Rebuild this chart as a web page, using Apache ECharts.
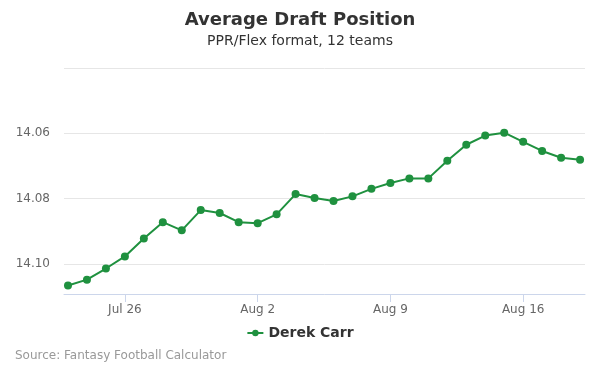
<!DOCTYPE html>
<html>
<head>
<meta charset="utf-8">
<script src="https://cdn.jsdelivr.net/npm/echarts@6/dist/echarts.min.js"></script>
<style>html,body{margin:0;padding:0;background:#fff}#c{width:600px;height:375px}</style>
</head>
<body>
<div id="c"></div>
<script>
var dates = ['Jul 23','Jul 24','Jul 25','Jul 26','Jul 27','Jul 28','Jul 29','Jul 30','Jul 31','Aug 1','Aug 2','Aug 3','Aug 4','Aug 5','Aug 6','Aug 7','Aug 8','Aug 9','Aug 10','Aug 11','Aug 12','Aug 13','Aug 14','Aug 15','Aug 16','Aug 17','Aug 18','Aug 19'];
var adp = [14.1066,14.1048,14.1014,14.0977,14.0922,14.0872,14.0897,14.0835,14.0844,14.0872,14.0875,14.0848,14.0786,14.0798,14.0807,14.0793,14.0770,14.0752,14.0738,14.0738,14.0684,14.0635,14.0607,14.0598,14.0626,14.0654,14.0675,14.0681];
var xTickIdx = [3,10,17,24];
var yTickLabels = [14.06,14.08,14.10];

var chart = echarts.init(document.getElementById('c'));
var fontFam = '"DejaVu Sans", sans-serif';
chart.setOption({
  animation: false,
  textStyle: {fontFamily: fontFam},
  title: [
    {text: 'Average Draft Position', left: 'center', top: 11, padding: 0, textStyle: {fontSize: 18, fontWeight: 'bold', color: '#333', fontFamily: fontFam}},
    {text: 'PPR/Flex format, 12 teams', left: 'center', top: 34, padding: 0, textStyle: {fontSize: 14, fontWeight: 'normal', color: '#333', fontFamily: fontFam}},
    {text: 'Source: Fantasy Football Calculator', left: 15, top: 350, padding: 0, textStyle: {fontSize: 12, fontWeight: 'normal', color: '#999', fontFamily: fontFam}}
  ],
  legend: {
    data: ['Derek Carr'], left: 'center', top: 321, itemWidth: 16, itemHeight: 8, itemGap: 6,
    textStyle: {fontSize: 14, fontWeight: 'bold', color: '#333', fontFamily: fontFam}
  },
  grid: {left: 64, right: 15, top: 68, bottom: 81},
  xAxis: {
    type: 'value', min: -0.21, max: 27.26,
    axisLine: {show: true, lineStyle: {color: '#ccd6eb'}},
    axisTick: {show: true, customValues: xTickIdx, length: 8, lineStyle: {color: '#ccd6eb'}},
    axisLabel: {customValues: xTickIdx, color: '#666', fontSize: 12, margin: 10, formatter: function(v){return dates[Math.round(v)];}},
    splitLine: {show: false}
  },
  yAxis: {
    type: 'value', inverse: true, min: 14.04, max: 14.1092, interval: 0.02,
    axisLine: {show: false}, axisTick: {show: false},
    axisLabel: {customValues: yTickLabels, color: '#666', fontSize: 12, margin: 14, formatter: function(v){return v.toFixed(2);}},
    splitLine: {show: true, lineStyle: {color: '#e6e6e6'}}
  },
  series: [{
    name: 'Derek Carr', type: 'line',
    data: adp.map(function(v,i){return [i,v];}),
    symbol: 'circle', symbolSize: 8,
    lineStyle: {color: '#1f913f', width: 2},
    itemStyle: {color: '#1f913f'}
  }]
});
</script>
</body>
</html>
